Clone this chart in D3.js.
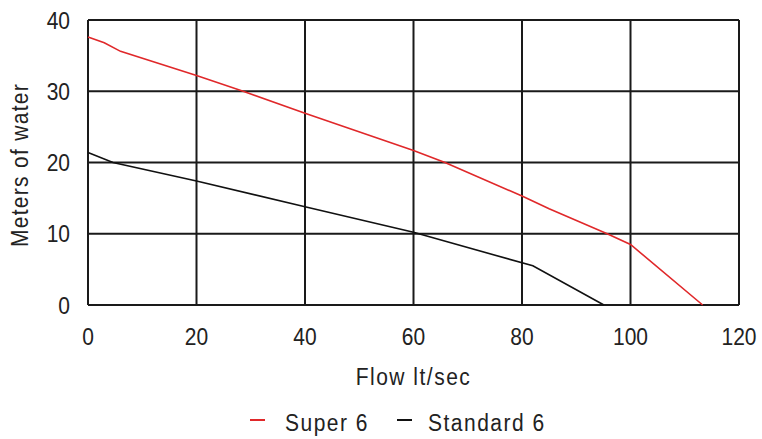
<!DOCTYPE html>
<html>
<head>
<meta charset="utf-8">
<script src="https://cdn.jsdelivr.net/npm/d3@7"></script>
<style>
  body { margin: 0; background: #fff; }
  text { font-family: "Liberation Sans", Arial, sans-serif; fill: #222; font-size: 21px; }
</style>
</head>
<body>
<div id="chart"></div>
<script>
// Pump curves
const superFlow = [0, 3, 6, 20, 28.6, 40, 60, 65.8, 80, 85, 95.7, 100, 113.3];
const superHead = [37.6, 36.8, 35.6, 32.2, 30, 26.9, 21.7, 20, 15.3, 13.5, 10, 8.5, 0];
const standardFlow = [0, 4.6, 20, 40, 60, 82, 95.1];
const standardHead = [21.4, 20, 17.4, 13.8, 10.2, 5.5, 0];

const xTicks = [0, 20, 40, 60, 80, 100, 120];
const yTicks = [0, 10, 20, 30, 40];
const seriesNames = ["Super 6", "Standard 6"];
const seriesColors = ["#e0282a", "#111"];

const width = 762, height = 439;
const margin = { top: 20, right: 23, bottom: 134, left: 88 };
const stretch = 1.15; // the original font is tall and narrow

const svg = d3.select("#chart").append("svg")
    .attr("width", width)
    .attr("height", height);

const x = d3.scaleLinear().domain([0, 120]).range([margin.left, width - margin.right]);
const y = d3.scaleLinear().domain([0, 40]).range([height - margin.bottom, margin.top]);

// grid
svg.append("g")
    .selectAll("line")
    .data(xTicks)
    .enter().append("line")
    .attr("x1", d => x(d)).attr("x2", d => x(d))
    .attr("y1", y(0)).attr("y2", y(40))
    .attr("stroke", "#1a1a1a").attr("stroke-width", 2);

svg.append("g")
    .selectAll("line")
    .data(yTicks)
    .enter().append("line")
    .attr("x1", x(0)).attr("x2", x(120))
    .attr("y1", d => y(d)).attr("y2", d => y(d))
    .attr("stroke", "#1a1a1a").attr("stroke-width", 2);

// tick labels
svg.append("g")
    .selectAll("text")
    .data(xTicks)
    .enter().append("text")
    .attr("transform", d => `translate(${x(d)},${y(0) + 40}) scale(1,${stretch})`)
    .attr("text-anchor", "middle")
    .text(d => d);

svg.append("g")
    .selectAll("text")
    .data(yTicks)
    .enter().append("text")
    .attr("transform", d => `translate(${x(0) - 18},${y(d) + 8.5}) scale(1,${stretch})`)
    .attr("text-anchor", "end")
    .text(d => d);

// axis titles
svg.append("text")
    .attr("transform", `translate(${(x(0) + x(120)) / 2},385) scale(1,${stretch})`)
    .attr("text-anchor", "middle")
    .attr("letter-spacing", 1.5)
    .text("Flow lt/sec");

svg.append("text")
    .attr("transform", `translate(28,165) rotate(-90) scale(1,${stretch})`)
    .attr("text-anchor", "middle")
    .attr("letter-spacing", 1.3)
    .text("Meters of water");

// curves
const line = d3.line().x(d => x(d[0])).y(d => y(d[1]));
const series = [
    d3.zip(superFlow, superHead),
    d3.zip(standardFlow, standardHead)
];

svg.append("g")
    .selectAll("path")
    .data(series)
    .enter().append("path")
    .attr("d", line)
    .attr("fill", "none")
    .attr("stroke", (d, i) => seriesColors[i])
    .attr("stroke-width", 1.6);

// legend
const legendX = [250, 397];
const legendGap = [35, 31];
const legend = svg.append("g")
    .selectAll("g")
    .data(seriesNames)
    .enter().append("g")
    .attr("transform", (d, i) => `translate(${legendX[i]},420)`);

legend.append("line")
    .attr("x1", 0).attr("x2", 15)
    .attr("y1", 0).attr("y2", 0)
    .attr("stroke", (d, i) => seriesColors[i])
    .attr("stroke-width", 2);

legend.append("text")
    .attr("transform", (d, i) => `translate(${legendGap[i]},11) scale(1,${stretch})`)
    .attr("letter-spacing", 1.5)
    .text(d => d);
</script>
</body>
</html>
